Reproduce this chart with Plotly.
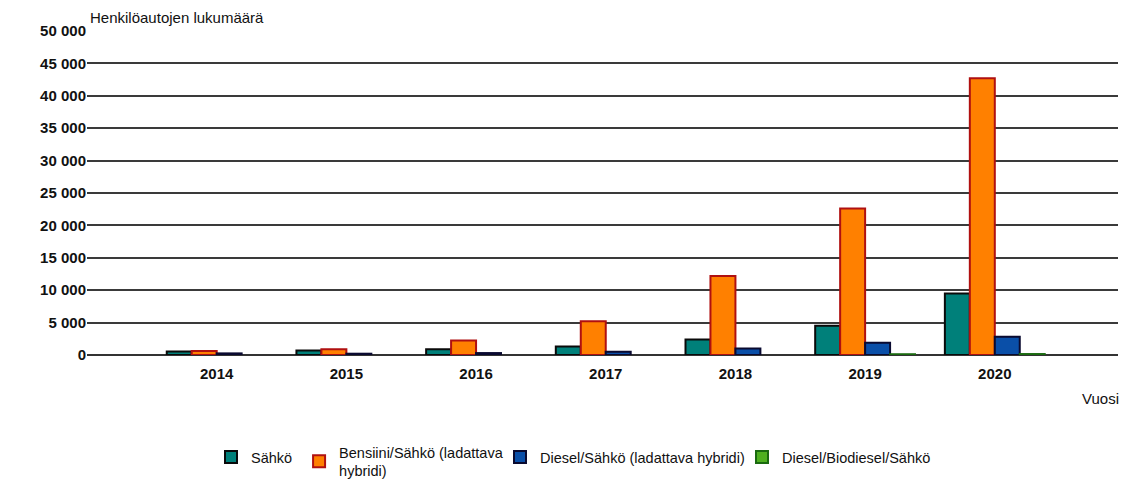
import plotly.graph_objects as go

years = [2014, 2015, 2016, 2017, 2018, 2019, 2020]
sahko = [550, 700, 900, 1300, 2400, 4500, 9500]
bensiini_sahko = [600, 900, 2250, 5200, 12200, 22600, 42700]
diesel_sahko = [250, 200, 300, 500, 1000, 1900, 2800]
diesel_bio_sahko = [None, None, None, None, None, 120, 150]

series = [
    ("Sähkö", sahko, "#00807a", "#0a0a0a", "legend"),
    ("Bensiini/Sähkö (ladattava<br>hybridi)", bensiini_sahko, "#ff8000", "#b01010", "legend2"),
    ("Diesel/Sähkö (ladattava hybridi)", diesel_sahko, "#0a4fa8", "#0a0a30", "legend3"),
    ("Diesel/Biodiesel/Sähkö", diesel_bio_sahko, "#4fb020", "#1a6a10", "legend4"),
]

fig = go.Figure()
for name, vals, col, line, lg in series:
    fig.add_trace(go.Bar(x=years, y=vals, name=name, legend=lg,
                         marker=dict(color=col, line=dict(color=line, width=2))))

ff = "Liberation Sans, Arial, sans-serif"
lfont = dict(family=ff, size=14.5, color="#111")


def leg(x, y):
    return dict(orientation="h", x=x, xanchor="left", y=y, yanchor="top",
                font=lfont, bgcolor="rgba(0,0,0,0)")


fig.update_layout(
    width=1129, height=479,
    margin=dict(l=87, r=11, t=31, b=124, autoexpand=False),
    plot_bgcolor="white", paper_bgcolor="white",
    barmode="group", bargap=0.23, bargroupgap=0,
    separators=", ",
    font=dict(family=ff, size=13, color="#111"),
    showlegend=True,
    legend=leg(0.1203, -0.266),
    legend2=leg(0.2057, -0.250),
    legend3=leg(0.4006, -0.266),
    legend4=leg(0.6353, -0.266),
    xaxis=dict(range=[2013.0, 2020.95], tickvals=years, ticktext=[str(y) for y in years],
               showgrid=False, zeroline=False, showline=False, ticks="", automargin=False,
               ticklabelstandoff=8, tickfont=dict(size=15, weight="bold")),
    yaxis=dict(range=[0, 50000], tickvals=list(range(0, 50001, 5000)), tickformat=",d",
               showgrid=True, gridcolor="#3a3a3a", gridwidth=1.5, zeroline=True, zerolinecolor="#333",
               zerolinewidth=2, ticks="", automargin=False, tickfont=dict(size=15, weight="bold")),
    annotations=[
        dict(text="Henkilöautojen lukumäärä", x=0, xref="paper", xanchor="left", xshift=1,
             y=1, yref="paper", yanchor="bottom", yshift=3, showarrow=False,
             font=dict(size=15, color="#111")),
        dict(text="Vuosi", x=1, xref="paper", xanchor="right", xshift=3,
             y=0, yref="paper", yanchor="top", yshift=-33, showarrow=False,
             font=dict(size=15, color="#111")),
    ],
)
fig.write_html("out.html", config={"displayModeBar": False},
               post_script="document.body.style.margin='0';")
